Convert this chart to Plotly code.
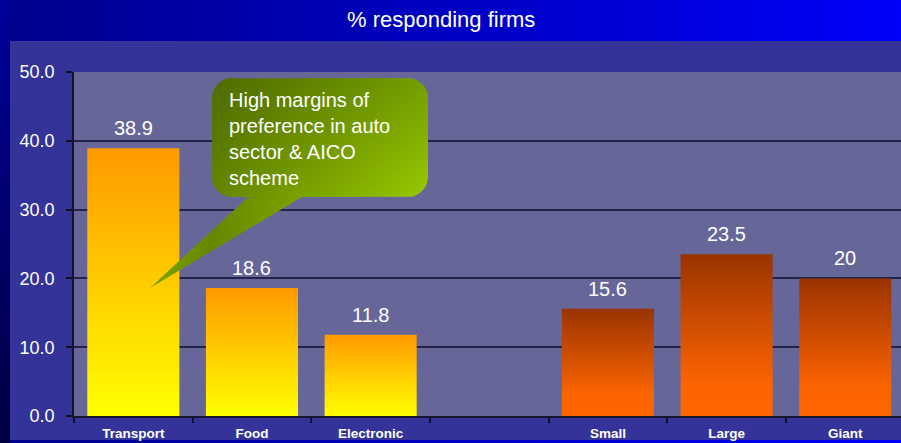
import numpy as np
import plotly.graph_objects as go

# ---------------- data ----------------
categories = ["Transport", "Food", "Electronic", "", "Small", "Large", "Giant"]
values = [38.9, 18.6, 11.8, None, 15.6, 23.5, 20]
groups = ["sector", "sector", "sector", None, "size", "size", "size"]
y_ticks = [0, 10, 20, 30, 40, 50]
title_text = "% responding firms"
callout_text = "High margins of<br>preference in auto<br>sector & AICO<br>scheme"

# ---------------- style ----------------
W, H = 901, 443
FONT = "Liberation Sans, Arial, sans-serif"
BAR_W = 0.776
scales = {
    "sector": [[0, "#FFFF00"], [1, "#FF9900"]],
    "size": [[0, "#FF6600"], [0.2, "#FC6400"], [1, "#993300"]],
}

fig = go.Figure()


def rect(x0, x1, y0, y1):
    return [x0, x1, x1, x0, x0], [y0, y0, y1, y1, y0]


def bg(x0, x1, y0, y1, color=None, grad=None):
    xs, ys = rect(x0, x1, y0, y1)
    kw = dict(x=xs, y=ys, mode="lines", fill="toself", line=dict(width=0),
              hoverinfo="skip", showlegend=False, xaxis="x", yaxis="y")
    if grad:
        kw["fillgradient"] = grad
    else:
        kw["fillcolor"] = color
    fig.add_trace(go.Scatter(**kw))


# page background (pixel-space axes x/y)
bg(0, W, 0, H, grad=dict(type="horizontal", start=0, stop=W,
                         colorscale=[[0, "#00008C"], [1, "#0000FA"]]))
bg(0, 10, 0, H, grad=dict(type="vertical", start=0, stop=H,
                          colorscale=[[0, "#00009C"], [1, "#000040"]]))
bg(10, W, 41, 440, color="#333399")
bg(74, W, 72, 416, color="#666699")

# ---------------- bars (data axes x2/y2) ----------------
for i, (v, g) in enumerate(zip(values, groups)):
    if v is None:
        continue
    xs = [i - BAR_W / 2, i + BAR_W / 2, i + BAR_W / 2, i - BAR_W / 2, i - BAR_W / 2]
    ys = [0, 0, v, v, 0]
    fig.add_trace(go.Scatter(
        x=xs, y=ys, xaxis="x2", yaxis="y2", mode="lines", fill="toself",
        line=dict(width=0),
        fillgradient=dict(type="vertical", colorscale=scales[g], start=0, stop=v),
        hoverinfo="skip", showlegend=False))

annotations = []
for i, v in enumerate(values):
    if v is None:
        continue
    annotations.append(dict(x=i, y=v, xref="x2", yref="y2", text=f"{v:g}",
                            showarrow=False, yanchor="middle", yshift=20,
                            font=dict(family=FONT, size=20, color="white")))

# ---------------- callout (pixel axes x3/y3) ----------------
bx0, bx1, by0, by1, r = 212, 428, 78, 197, 20
tail_l, tail_r, tip = 248, 302, (150, 288)


def arc(cx, cy, a0, a1, n=12):
    t = np.linspace(np.radians(a0), np.radians(a1), n)
    return list(cx + r * np.cos(t)), list(cy + r * np.sin(t))


px, py = [tail_r], [by1]
for (cx, cy, a0, a1) in [(bx1 - r, by1 - r, 90, 0), (bx1 - r, by0 + r, 0, -90),
                         (bx0 + r, by0 + r, -90, -180), (bx0 + r, by1 - r, 180, 90)]:
    ax_, ay_ = arc(cx, cy, a0, a1)
    px += ax_
    py += ay_
px += [tail_l, tip[0], tail_r]
py += [by1, tip[1], by1]

fig.add_trace(go.Scatter(
    x=px, y=py, xaxis="x3", yaxis="y3", mode="lines", fill="toself", line=dict(width=0),
    fillgradient=dict(type="horizontal", start=150, stop=428,
                      colorscale=[[0, "#7AA400"], [0.22, "#658800"], [1, "#9ACC00"]]),
    hoverinfo="skip", showlegend=False))
fig.add_trace(go.Scatter(
    x=px, y=py, xaxis="x3", yaxis="y3", mode="lines", fill="toself", line=dict(width=0),
    fillgradient=dict(type="vertical", start=78, stop=288,
                      colorscale=[[0, "rgba(0,20,0,0.25)"], [0.6, "rgba(0,0,0,0)"],
                                  [1, "rgba(0,0,0,0)"]]),
    hoverinfo="skip", showlegend=False))

annotations.append(dict(x=227, y=139, xref="x3", yref="y3", text=callout_text,
                        showarrow=False, xanchor="left", yanchor="middle", align="left",
                        font=dict(family=FONT, size=20, color="white")))
annotations.append(dict(x=441 / W, y=1 - 20 / H, xref="paper", yref="paper", text=title_text,
                        showarrow=False, xanchor="center", yanchor="middle",
                        font=dict(family=FONT, size=22, color="white")))

pix_x = dict(domain=[0, 1], range=[0, W], visible=False, fixedrange=True, automargin=False)
pix_y = dict(domain=[0, 1], range=[H, 0], visible=False, fixedrange=True, automargin=False)

fig.update_layout(
    template="none",
    width=W, height=H, margin=dict(l=0, r=0, t=0, b=0, pad=0, autoexpand=False),
    paper_bgcolor="#000080", plot_bgcolor="rgba(0,0,0,0)", showlegend=False,
    xaxis=dict(pix_x, anchor="y"), yaxis=dict(pix_y, anchor="x"),
    xaxis3=dict(pix_x, anchor="y3"), yaxis3=dict(pix_y, anchor="x3"),
    xaxis2=dict(domain=[74 / W, 1], anchor="y2", range=[-0.5, 6.47], automargin=False,
                tickmode="array", tickvals=list(range(len(categories))), ticktext=categories,
                ticks="", showgrid=False, zeroline=False,
                showline=True, linecolor="#15152E", linewidth=2,
                tickfont=dict(family=FONT, size=13.5, color="white", weight="bold"),
                ticklabelstandoff=4,
                minor=dict(tickmode="array", tickvals=[k - 0.5 for k in range(len(categories) + 1)],
                           ticks="outside", ticklen=5, tickcolor="#111122", tickwidth=1.5,
                           showgrid=False),
                fixedrange=True),
    yaxis2=dict(domain=[27 / H, 371 / H], anchor="x2", range=[0, 50], automargin=False,
                tickmode="array", tickvals=y_ticks, tickformat=".1f",
                ticks="outside", ticklen=6, tickcolor="#111122", tickwidth=1.5,
                showgrid=True, gridcolor="#22224A", gridwidth=2, zeroline=False,
                showline=True, linecolor="#15152E", linewidth=1.5,
                tickfont=dict(family=FONT, size=18, color="white"),
                ticklabelstandoff=8, fixedrange=True),
    annotations=annotations,
)

fig.write_html("out.html", config={"displayModeBar": False},
               post_script="document.body.style.margin='0';document.body.style.overflow='hidden';")
